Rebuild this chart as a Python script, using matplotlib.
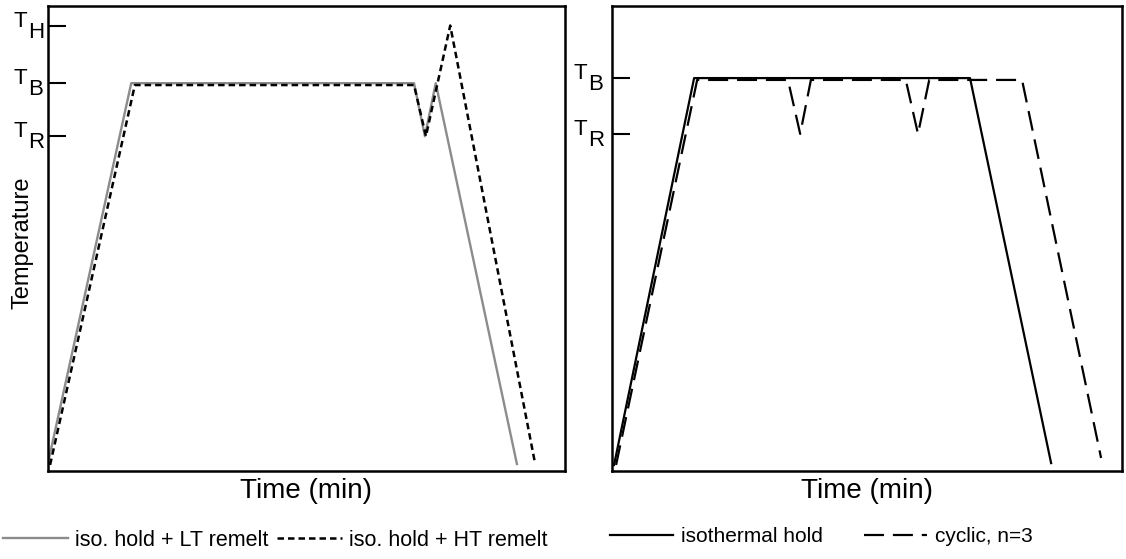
import matplotlib
matplotlib.use("Agg")
import matplotlib.pyplot as plt

plt.rcParams['font.family'] = ['Liberation Sans', 'DejaVu Sans']

# characteristic temperatures (arbitrary units)
T_R_left, T_B_left, T_H_left = 72.0, 83.4, 95.8
T_R_right, T_B_right = 72.5, 84.5

# left panel: isothermal hold followed by a remelt step
lt_time = [0.0, 16.1, 70.8, 72.9, 75.0, 90.7]
lt_temp = [1.7, 83.4, 83.4, 72.0, 83.4, 1.5]
ht_time = [0.4, 16.8, 70.8, 73.1, 77.8, 94.2]
ht_temp = [1.3, 83.0, 83.0, 72.0, 95.8, 1.7]

# right panel: plain hold vs. cycling between T_B and T_R
iso_time = [0.4, 16.1, 70.2, 86.1]
iso_temp = [1.3, 84.5, 84.5, 1.7]
cyc_time = [0.8, 16.7, 34.5, 36.9, 39.0, 57.6, 60.0, 62.2, 80.4, 95.9]
cyc_temp = [1.3, 84.1, 84.1, 72.5, 84.1, 84.1, 72.5, 84.1, 84.1, 2.8]

left_ticks = [("H", T_H_left), ("B", T_B_left), ("R", T_R_left)]
right_ticks = [("B", T_B_right), ("R", T_R_right)]

fig = plt.figure(figsize=(11.26, 5.59), dpi=100)
ax1 = fig.add_axes([48/1126, 88/559, 517/1126, 465/559])
ax2 = fig.add_axes([612/1126, 88/559, 510/1126, 465/559])

ax1.plot(lt_time, lt_temp, color='#8c8c8c', lw=1.7, label='iso. hold + LT remelt')
ax1.plot(ht_time, ht_temp, color='black', lw=1.8, dashes=(2.6, 1.6),
         label='iso. hold + HT remelt')

ax2.plot(iso_time, iso_temp, color='black', lw=1.6, label='isothermal hold')
ax2.plot(cyc_time, cyc_temp, color='black', lw=1.6, dashes=(9, 4),
         label='cyclic, n=3')


def label_T(ax, ticks, dx):
    # T with a same-size subscript letter next to each tick
    for sub, val in ticks:
        ax.annotate('T', xy=(0, val), xycoords=('axes fraction', 'data'),
                    xytext=(dx, -1), textcoords='offset pixels',
                    ha='right', va='baseline', fontsize=16)
        ax.annotate(sub, xy=(0, val), xycoords=('axes fraction', 'data'),
                    xytext=(dx + 1, -12), textcoords='offset pixels',
                    ha='left', va='baseline', fontsize=16)


for ax, ticks, dx in [(ax1, left_ticks, -21), (ax2, right_ticks, -25)]:
    ax.set_xlim(0, 100)
    ax.set_ylim(0, 100)
    ax.set_xticks([])
    ax.set_yticks([v for _, v in ticks])
    ax.set_yticklabels([])
    ax.tick_params(axis='y', direction='in', length=13, width=1.5)
    for s in ax.spines.values():
        s.set_linewidth(1.8)
    ax.set_xlabel('Time (min)', fontsize=20, labelpad=5)
    label_T(ax, ticks, dx)

ax1.set_ylabel('Temperature', fontsize=17)
ax1.yaxis.set_label_coords(-15/517, 0.49)

ax1.legend(loc='center left', bbox_to_anchor=(3/1126, 19/559),
           bbox_transform=fig.transFigure, ncol=2, frameon=False,
           fontsize=15.5, handlelength=3.0, handletextpad=0.35,
           columnspacing=0.4, borderpad=0, borderaxespad=0)
ax2.legend(loc='center left', bbox_to_anchor=(610/1126, 22/559),
           bbox_transform=fig.transFigure, ncol=2, frameon=False,
           fontsize=15, handlelength=3.0, handletextpad=0.4,
           columnspacing=2.0, borderpad=0, borderaxespad=0)

fig.savefig('out.png', dpi=100)
